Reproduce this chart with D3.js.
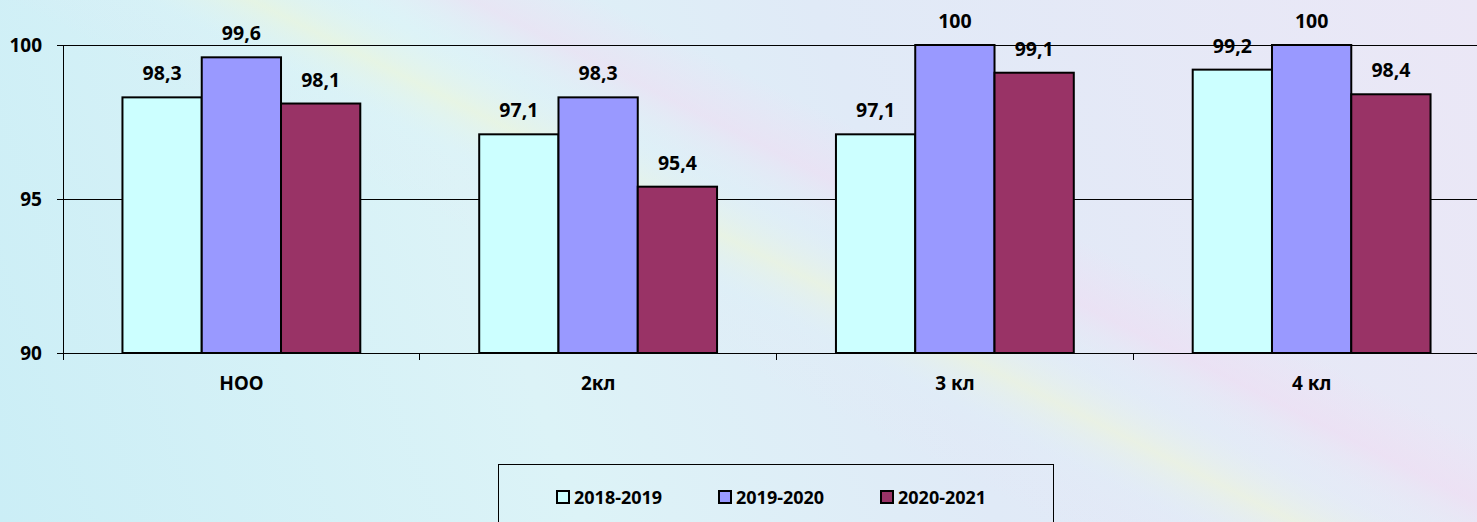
<!DOCTYPE html>
<html>
<head>
<meta charset="utf-8">
<script src="https://cdn.jsdelivr.net/npm/d3@7"></script>
<style>
  body { margin: 0; overflow: hidden; }
  text { font-family: "Noto Sans", sans-serif; font-weight: bold; fill: #000; }
  line, .domain { shape-rendering: crispEdges; }
</style>
</head>
<body>
<script>
// Data
var categories = ["НОО", "2кл", "3 кл", "4 кл"];
var seriesNames = ["2018-2019", "2019-2020", "2020-2021"];
var values2018 = [98.3, 97.1, 97.1, 99.2];
var values2019 = [99.6, 98.3, 100, 100];
var values2020 = [98.1, 95.4, 99.1, 98.4];
var yTicks = [90, 95, 100];
var colors = ["#ccffff", "#9999ff", "#993366"];

var allSeries = [values2018, values2019, values2020];

// SVG variables
var width = 1477, height = 522;
var plot = {left: 63, top: 45, bottom: 353, right: 1490};

var svg = d3.select("body").append("svg")
   .attr("width", width)
   .attr("height", height);

/* BACKGROUND */
var defs = svg.append("defs");
var bg = defs.append("linearGradient")
   .attr("id", "bg")
   .attr("gradientUnits", "userSpaceOnUse")
   .attr("x1", 0).attr("y1", 522).attr("x2", 1477).attr("y2", 0);
[[0, "#cbeef6"], [0.35, "#dcf3f7"], [0.6, "#e0eaf7"], [1, "#ebe7f6"]].forEach(function(s) {
   bg.append("stop").attr("offset", s[0]).attr("stop-color", s[1]);
});

// diagonal rainbow bands, direction perpendicular to slope 0.5
var band = defs.append("linearGradient")
   .attr("id", "band")
   .attr("gradientUnits", "userSpaceOnUse")
   .attr("x1", 940).attr("y1", 0).attr("x2", 680).attr("y2", 520);
[[0, "#ffffff", 0], [0.26, "#f3dcf2", 0.0], [0.36, "#f0dcf2", 0.55], [0.45, "#dff3f7", 0.2],
 [0.53, "#eef6d8", 0.6], [0.61, "#dff3f7", 0.15], [0.72, "#f0dff2", 0.0], [1, "#ffffff", 0]]
 .forEach(function(s) {
   band.append("stop").attr("offset", s[0]).attr("stop-color", s[1]).attr("stop-opacity", s[2]);
});

svg.append("rect").attr("width", width).attr("height", height).attr("fill", "url(#bg)");
svg.append("rect").attr("width", width).attr("height", height).attr("fill", "url(#band)");

/* PREPARATION */
// Scale preparation
var yScale = d3.scaleLinear().domain([90, 100]).range([plot.bottom, plot.top]);
var xScale = d3.scaleBand().domain(categories).range([plot.left, plot.right]);
var xInner = d3.scaleBand().domain(d3.range(seriesNames.length))
   .range([0, xScale.bandwidth()])
   .paddingInner(0).paddingOuter(0.75);

/* DRAWING */
// Gridlines
svg.append("g")
   .selectAll("line")
   .data(yTicks.slice(1))
   .join("line")
   .attr("x1", plot.left).attr("x2", width)
   .attr("y1", function(d) { return yScale(d); })
   .attr("y2", function(d) { return yScale(d); })
   .attr("stroke", "#000").attr("stroke-width", 1);

// Y axis
var yaxis = d3.axisLeft(yScale).tickValues(yTicks).tickSize(6).tickPadding(15);
var gy = svg.append("g")
   .attr("transform", "translate(" + plot.left + ",0)")
   .call(yaxis);
gy.select(".domain").attr("d", "M0," + plot.top + "V" + (plot.bottom + 7)).attr("stroke", "#000");
gy.selectAll("line").attr("stroke", "#000");
gy.selectAll("text").style("font-size", "19px").style("font-family", null);

// X axis with ticks at category boundaries
svg.append("line")
   .attr("x1", plot.left).attr("x2", width)
   .attr("y1", plot.bottom).attr("y2", plot.bottom)
   .attr("stroke", "#000");
svg.append("g")
   .selectAll("line")
   .data(categories)
   .join("line")
   .attr("x1", function(d) { return xScale(d); })
   .attr("x2", function(d) { return xScale(d); })
   .attr("y1", plot.bottom).attr("y2", plot.bottom + 7)
   .attr("stroke", "#000");
svg.append("g")
   .selectAll("text")
   .data(categories)
   .join("text")
   .attr("x", function(d) { return xScale(d) + xScale.bandwidth() / 2; })
   .attr("y", 390)
   .attr("text-anchor", "middle")
   .style("font-size", "19px")
   .text(function(d) { return d; });

// Bars
var barData = [];
categories.forEach(function(c, i) {
   allSeries.forEach(function(s, j) {
      barData.push({cat: c, s: j, v: s[i]});
   });
});

svg.append("g")
   .selectAll("rect")
   .data(barData)
   .join("rect")
   .attr("x", function(d) { return xScale(d.cat) + xInner(d.s); })
   .attr("y", function(d) { return yScale(d.v); })
   .attr("width", xInner.bandwidth())
   .attr("height", function(d) { return yScale(90) - yScale(d.v); })
   .attr("fill", function(d) { return colors[d.s]; })
   .attr("stroke", "#000")
   .attr("stroke-width", 2);

// Value labels
svg.append("g")
   .selectAll("text")
   .data(barData)
   .join("text")
   .attr("x", function(d) { return xScale(d.cat) + xInner(d.s) + xInner.bandwidth() / 2; })
   .attr("y", function(d) { return yScale(d.v) - 17; })
   .attr("text-anchor", "middle")
   .style("font-size", "19.5px")
   .text(function(d) { return String(d.v).replace(".", ","); });

/* LEGEND */
var legend = svg.append("g");
legend.append("rect")
   .attr("x", 498.5).attr("y", 464.5)
   .attr("width", 555).attr("height", 80)
   .attr("fill", "none").attr("stroke", "#000");
var legendX = [557, 719, 881];
var items = legend.selectAll("g")
   .data(seriesNames)
   .join("g")
   .attr("transform", function(d, i) { return "translate(" + legendX[i] + ",491)"; });
items.append("rect")
   .attr("width", 12).attr("height", 12)
   .attr("fill", function(d, i) { return colors[i]; })
   .attr("stroke", "#000").attr("stroke-width", 2);
items.append("text")
   .attr("x", 17).attr("y", 12.5)
   .style("font-size", "18px")
   .text(function(d) { return d; });
</script>
</body>
</html>
